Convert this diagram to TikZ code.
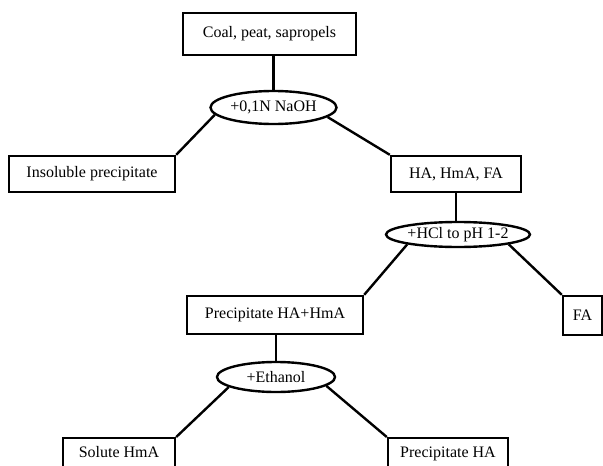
\documentclass[tikz,border=0pt]{standalone}
\usepackage{fontspec}
\setmainfont{Liberation Serif}
\usetikzlibrary{shapes.geometric}

\begin{document}
\begin{tikzpicture}[x=1pt,y=-1pt,line width=2.4pt,
    every node/.style={black,font=\fontsize{16}{18}\selectfont},
    box/.style={draw,rectangle,line width=2.4pt,inner sep=0pt},
    oval/.style={draw,ellipse,line width=2.4pt,inner sep=0pt},
    cutbox/.style={draw,rectangle,line width=2.4pt,inner xsep=0pt,inner ysep=6pt,text height=13pt,text depth=20pt}]
    \clip (0,0) rectangle (603,466);

    % stage 1
    \node[box,minimum width=173pt,minimum height=42pt] (coal) at (269.5,34) {Coal, peat, sapropels};
    \node[oval,minimum width=126pt,minimum height=33pt] (naoh) at (273.5,107.5) {+0,1N NaOH};
    \node[box,minimum width=166pt,minimum height=36pt] (insol) at (92,174) {Insoluble precipitate};
    \node[box,minimum width=130pt,minimum height=36pt] (hafa) at (456,174) {HA, HmA, FA};

    % stage 2
    \node[oval,minimum width=144pt,minimum height=25pt] (hcl) at (458,234.5) {+HCl to pH 1-2};
    \node[box,minimum width=176pt,minimum height=38pt] (prec) at (275,315) {Precipitate HA+HmA};
    \node[box,minimum width=39pt,minimum height=39pt] (fa) at (582.5,315.5) {FA};

    % stage 3
    \node[oval,minimum width=118pt,minimum height=30pt] (eth) at (276,377) {+Ethanol};
    \node[cutbox,minimum width=112pt,anchor=north] (hma) at (119,437) {Solute HmA};
    \node[cutbox,minimum width=120pt,anchor=north] (ha) at (448,437) {Precipitate HA};

    \draw (naoh.north) -- (naoh.north |- coal.south);
    \draw (naoh.187) -- (insol.north east);
    \draw (naoh.350) -- (hafa.north west);
    \draw (hafa.south) -- (hafa.south |- hcl.north);
    \draw (hcl.191) -- (prec.north east);
    \draw (hcl.349) -- (fa.north west);
    \draw (prec.south -| eth.north) -- (eth.north);
    \draw (eth.192) -- (hma.north east);
    \draw (eth.350) -- (ha.north west);
\end{tikzpicture}
\end{document}
